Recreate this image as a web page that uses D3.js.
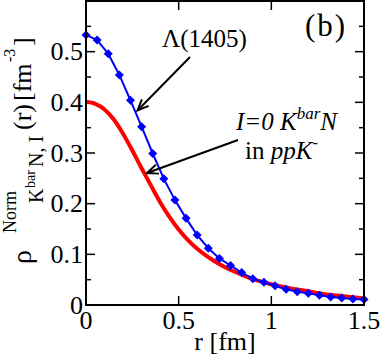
<!DOCTYPE html>
<html><head><meta charset="utf-8">
<script src="https://cdn.jsdelivr.net/npm/d3@7"></script>
<style>body{margin:0;background:#fff}svg{display:block}</style>
</head><body>
<script>
// Data
const blueR = [0,0.06,0.12,0.18,0.24,0.30,0.36,0.42,0.48,0.54,0.60,0.66,0.72,0.78,0.84,0.90,0.96,1.02,1.08,1.14,1.20,1.26,1.32,1.38,1.44,1.50];
const blueV = [0.533,0.523,0.496,0.454,0.404,0.352,0.299,0.249,0.207,0.171,0.138,0.112,0.092,0.078,0.064,0.052,0.045,0.038,0.031,0.026,0.023,0.019,0.016,0.014,0.012,0.011];
const redR = [0,0.05,0.1,0.15,0.2,0.25,0.3,0.35,0.4,0.45,0.5,0.55,0.6,0.65,0.7,0.8,0.9,1.0,1.1,1.2,1.3,1.4,1.5];
const redV = [0.401,0.397,0.386,0.366,0.338,0.305,0.270,0.236,0.203,0.174,0.149,0.128,0.111,0.097,0.085,0.066,0.051,0.041,0.033,0.027,0.021,0.017,0.013];
const xMajor = [0,0.5,1,1.5];
const xTickLabels = ["0","0.5","1","1.5"];
const yMajor = [0,0.1,0.2,0.3,0.4,0.5];
const yTickLabels = ["0","0.1","0.2","0.3","0.4","0.5"];
const yMinor = [0.05,0.15,0.25,0.35,0.45,0.55];

const FF = "Liberation Serif";
const W=382,H=357;
const svg=d3.select("body").append("svg").attr("width",W).attr("height",H);
const x=d3.scaleLinear().domain([0,1.5]).range([86,364]);
const y=d3.scaleLinear().domain([0,0.6]).range([305,1]);

// ticks inward on all four sides
const tk=svg.append("g").attr("stroke","#000").attr("stroke-width",1.5);
xMajor.slice(1,-1).forEach(v=>{
  tk.append("line").attr("x1",x(v)).attr("x2",x(v)).attr("y1",y(0)).attr("y2",y(0)-9);
  tk.append("line").attr("x1",x(v)).attr("x2",x(v)).attr("y1",y(0.6)).attr("y2",y(0.6)+9);
});
yMajor.slice(1).forEach(v=>{
  tk.append("line").attr("x1",x(0)).attr("x2",x(0)+9).attr("y1",y(v)).attr("y2",y(v));
  tk.append("line").attr("x1",x(1.5)).attr("x2",x(1.5)-9).attr("y1",y(v)).attr("y2",y(v));
});
yMinor.forEach(v=>{
  tk.append("line").attr("x1",x(0)).attr("x2",x(0)+5).attr("y1",y(v)).attr("y2",y(v));
  tk.append("line").attr("x1",x(1.5)).attr("x2",x(1.5)-5).attr("y1",y(v)).attr("y2",y(v));
});

// red curve
svg.append("path").datum(redR.map((r,i)=>[r,redV[i]]))
  .attr("fill","none").attr("stroke","#ff0000").attr("stroke-width",4)
  .attr("d",d3.line().x(d=>x(d[0])).y(d=>y(d[1])).curve(d3.curveMonotoneX));

// blue line + diamonds
const bd=blueR.map((r,i)=>[r,blueV[i]]);
svg.append("path").datum(bd).attr("fill","none").attr("stroke","#0000ff").attr("stroke-width",2)
  .attr("d",d3.line().x(d=>x(d[0])).y(d=>y(d[1])));
svg.append("g").selectAll("path").data(bd).join("path")
  .attr("fill","#0000ff")
  .attr("d",d=>{const cx=x(d[0]),cy=y(d[1]),s=4.5;return `M${cx},${cy-s}L${cx+s},${cy}L${cx},${cy+s}L${cx-s},${cy}Z`;});

// frame
svg.append("rect").attr("x",x(0)).attr("y",y(0.6)).attr("width",x(1.5)-x(0)).attr("height",y(0)-y(0.6))
  .attr("fill","none").attr("stroke","#000").attr("stroke-width",2);

// tick labels
svg.append("g").selectAll("text").data(xMajor).join("text")
  .attr("font-family",FF)
  .attr("x",d=>x(d)).attr("y",329).attr("text-anchor","middle").attr("font-size",26)
  .text((d,i)=>xTickLabels[i]);
svg.append("g").selectAll("text").data(yMajor).join("text")
  .attr("font-family",FF)
  .attr("x",83).attr("y",d=>y(d)).attr("dy","0.33em").attr("text-anchor","end").attr("font-size",26)
  .text((d,i)=>yTickLabels[i]);

// x label
svg.append("text").attr("font-family",FF).attr("x",225).attr("y",350).attr("text-anchor","middle").attr("font-size",26).text("r [fm]");

// y label
const yl=svg.append("text").attr("font-family",FF).attr("transform","translate(31,264) rotate(-90)");
const parts=[
  {t:"ρ",u:0,v:0,s:28},
  {t:"Norm",u:31,v:-15,s:18},
  {t:"K",u:61,v:12,s:20},
  {t:"bar",u:76,v:4,s:14},
  {t:"N, I",u:97,v:12,s:20},
  {t:"(r)",u:134,v:0,s:26},
  {t:"[fm",u:163,v:0,s:26},
  {t:"-3",u:202,v:-16,s:16},
  {t:"]",u:218,v:0,s:26}
];
parts.forEach(p=>yl.append("tspan").attr("x",p.u).attr("y",p.v).attr("font-size",p.s).text(p.t));

// (b)
svg.append("text").attr("font-family",FF).attr("x",305).attr("y",36).attr("font-size",31).attr("letter-spacing",2).text("(b)");

// annotations
svg.append("text").attr("font-family",FF).attr("x",162).attr("y",47).attr("font-size",25).text("Λ(1405)");
const t2=svg.append("text").attr("font-family",FF).attr("x",236).attr("y",130).attr("font-size",25).attr("font-style","italic");
t2.append("tspan").text("I=0 K");
t2.append("tspan").attr("font-size",17).attr("dy",-11).text("bar");
t2.append("tspan").attr("dy",11).text("N");
const t3=svg.append("text").attr("font-family",FF).attr("x",245).attr("y",159).attr("font-size",25);
t3.append("tspan").text("in ");
t3.append("tspan").attr("font-style","italic").text("ppK");
t3.append("tspan").attr("font-size",16).attr("dy",-11).text("-");

function arrow(x1,y1,x2,y2){
  const g=svg.append("g").attr("stroke","#000").attr("stroke-width",2).attr("fill","none");
  g.append("line").attr("x1",x1).attr("y1",y1).attr("x2",x2).attr("y2",y2);
  const a=Math.atan2(y1-y2,x1-x2),L=12,sp=0.4;
  g.append("path").attr("d",`M${x2+L*Math.cos(a+sp)},${y2+L*Math.sin(a+sp)}L${x2},${y2}L${x2+L*Math.cos(a-sp)},${y2+L*Math.sin(a-sp)}`);
}
arrow(190,57,137.5,110.5);
arrow(238,140,147,173);
</script>
</body></html>
